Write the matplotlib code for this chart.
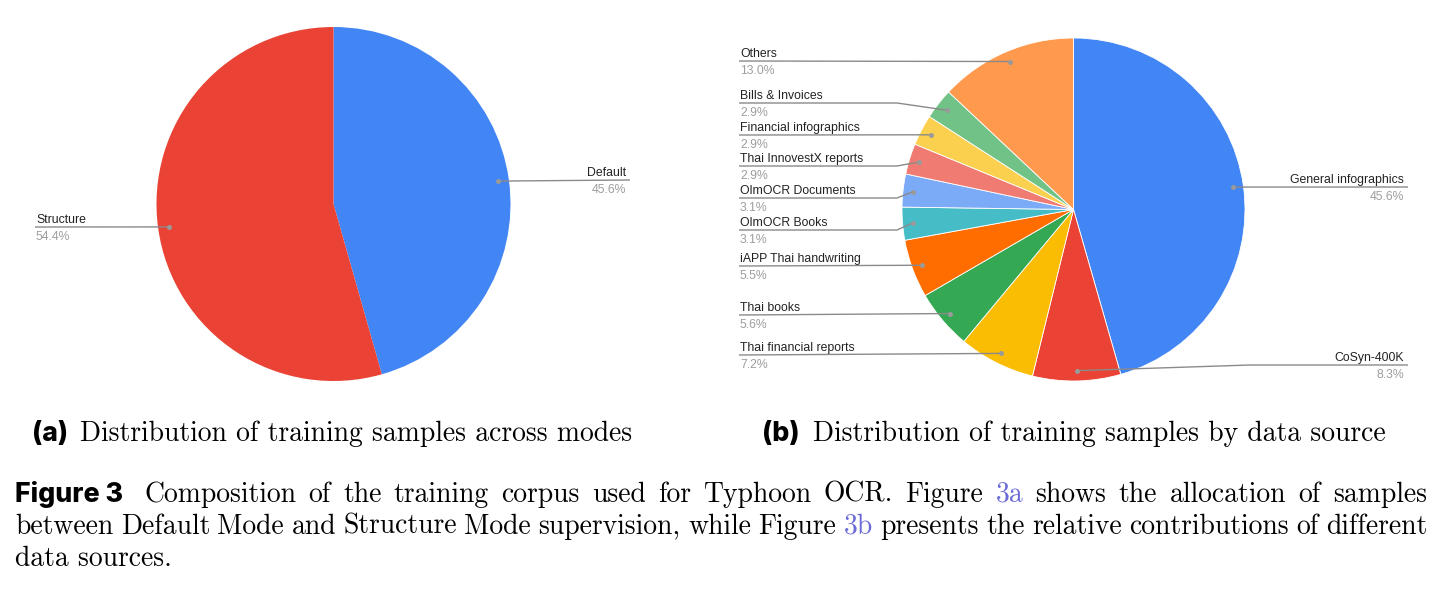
import matplotlib
matplotlib.use('Agg')
import matplotlib.pyplot as plt
import numpy as np

# ---------------- data ----------------
mode_labels = ['Default', 'Structure']
mode_values = [45.6, 54.4]
mode_colors = ['#4285F4', '#EA4335']

source_labels = ['General infographics', 'CoSyn-400K', 'Thai financial reports', 'Thai books',
                 'iAPP Thai handwriting', 'OlmOCR Books', 'OlmOCR Documents',
                 'Thai InnovestX reports', 'Financial infographics', 'Bills & Invoices', 'Others']
source_values = [45.6, 8.3, 7.2, 5.6, 5.5, 3.1, 3.1, 2.9, 2.9, 2.9, 13.0]
source_colors = ['#4285F4', '#EA4335', '#FBBC04', '#34A853', '#FF6D01', '#46BDC6',
                 '#7BAAF7', '#F07B72', '#FCD04F', '#71C287', '#FF994D']

subcaption_a = ('(a)', 'Distribution of training samples across modes')
subcaption_b = ('(b)', 'Distribution of training samples by data source')
caption_head = 'Figure 3'
caption_line1 = 'Composition of the training corpus used for Typhoon OCR. Figure 3a shows the allocation of samples'
caption_line2 = 'between Default Mode and Structure Mode supervision, while Figure 3b presents the relative contributions of different'
caption_line3 = 'data sources.'
link_words = ['3a', '3b']

# ---------------- layout ----------------
W, H = 1443, 590
fig = plt.figure(figsize=(W / 100, H / 100), dpi=100)
fig.patch.set_facecolor('white')

ov = fig.add_axes([0, 0, 1, 1])
ov.set_xlim(0, W)
ov.set_ylim(H, 0)
ov.axis('off')
ov.set_zorder(5)

LABEL_FONT = 'Liberation Sans'
LABEL_SIZE = 8.8
NAME_COLOR = '#222222'
PCT_COLOR = '#9E9E9E'
LINE_COLOR = '#8A8A8A'


def pie_axes(cx, cy, R):
    ax = fig.add_axes([(cx - R) / W, 1 - (cy + R) / H, 2 * R / W, 2 * R / H])
    return ax


def draw_pie(ax, values, colors, lw):
    wedges, _ = ax.pie(values, colors=colors, startangle=90, counterclock=False,
                       radius=1, wedgeprops=dict(linewidth=lw, edgecolor='white'))
    ax.set_xlim(-1, 1)
    ax.set_ylim(-1, 1)
    ax.set_aspect('equal')
    ax.axis('off')
    return wedges


def dot_pixel(ax, w, frac=0.94):
    mid = np.deg2rad((w.theta1 + w.theta2) / 2)
    xd, yd = ax.transData.transform((frac * np.cos(mid), frac * np.sin(mid)))
    return xd, H - yd


def label(ax, w, name, value, side, ly, x_text, elbow):
    dx, dy = dot_pixel(ax, w)
    if abs(dy - ly) < 3:
        xs = [x_text, dx]
        ys = [ly, dy]
    else:
        xs = [x_text, elbow, dx]
        ys = [ly, ly, dy]
    ov.plot(xs, ys, color=LINE_COLOR, lw=1.0, solid_capstyle='butt')
    ov.plot([dx], [dy], 'o', color='#9A9A9A', ms=3.6, mec='none')
    ha = 'left' if side == 'left' else 'right'
    tx = x_text + (1 if side == 'left' else -4)
    ov.text(tx, ly - 4, name, ha=ha, va='baseline', fontsize=LABEL_SIZE,
            family=LABEL_FONT, color=NAME_COLOR)
    ov.text(tx, ly + 13, f'{value:.1f}%', ha=ha, va='baseline', fontsize=LABEL_SIZE,
            family=LABEL_FONT, color=PCT_COLOR)


# ---- pie (a)
axA = pie_axes(333.5, 204, 177)
wA = draw_pie(axA, mode_values, mode_colors, 0)
label(axA, wA[0], mode_labels[0], mode_values[0], 'right', 180, 630, None)
label(axA, wA[1], mode_labels[1], mode_values[1], 'left', 227, 35, None)

# ---- pie (b)
axB = pie_axes(1073.5, 209.5, 171.5)
wB = draw_pie(axB, source_values, source_colors, 0.6)
left_line_y = {'Others': 61, 'Bills & Invoices': 103, 'Financial infographics': 135,
               'Thai InnovestX reports': 166, 'OlmOCR Documents': 198, 'OlmOCR Books': 230,
               'iAPP Thai handwriting': 266, 'Thai books': 315, 'Thai financial reports': 355}
right_line_y = {'General infographics': 187, 'CoSyn-400K': 365}
for w, name, v in zip(wB, source_labels, source_values):
    if name in left_line_y:
        label(axB, w, name, v, 'left', left_line_y[name], 739, 897)
    else:
        label(axB, w, name, v, 'right', right_line_y[name], 1408, 1250)

# ---------------- captions ----------------
renderer = fig.canvas.get_renderer()
SERIF = 'cmr10'
BOLD_FONT = 'Inter'
BOLD_WEIGHT = 800


def text_width(s, size, **kw):
    t = ov.text(0, 0, s, fontsize=size, **kw)
    wdt = t.get_window_extent(renderer).width
    t.remove()
    return wdt


# fit serif size so subcaption (a) spans x=80..634
w10 = text_width(subcaption_a[1], 10, family=SERIF)
SERIF_SIZE = 10 * (634 - 80) / w10
wb10 = text_width(caption_head, 10, family=BOLD_FONT, weight=BOLD_WEIGHT)
BOLD_SIZE = 10 * (123 - 15) / wb10

for (tag, txt), x_tag, x_txt in [(subcaption_a, 32, 80), (subcaption_b, 762, 813)]:
    ov.text(x_tag, 441, tag, fontsize=BOLD_SIZE, family=BOLD_FONT, weight=BOLD_WEIGHT,
            ha='left', va='baseline', color='black')
    ov.text(x_txt, 441, txt, fontsize=SERIF_SIZE, family=SERIF,
            ha='left', va='baseline', color='black')

ov.text(15, 502, caption_head, fontsize=BOLD_SIZE, family=BOLD_FONT, weight=BOLD_WEIGHT,
        ha='left', va='baseline', color='black')


def justify(line, x0, x1, y):
    words = line.split(' ')
    widths = [text_width(wd, SERIF_SIZE, family=SERIF) for wd in words]
    gap = (x1 - x0 - sum(widths)) / (len(words) - 1)
    x = x0
    for wd, wdt in zip(words, widths):
        col = '#6B6BD8' if wd.strip('.,') in link_words else 'black'
        ov.text(x, y, wd, fontsize=SERIF_SIZE, family=SERIF, ha='left', va='baseline', color=col)
        x += wdt + gap


justify(caption_line1, 144, 1427, 502)
justify(caption_line2, 15, 1427, 534)
ov.text(15, 566, caption_line3, fontsize=SERIF_SIZE, family=SERIF, ha='left', va='baseline', color='black')

fig.savefig('out.png', dpi=100, facecolor='white')
